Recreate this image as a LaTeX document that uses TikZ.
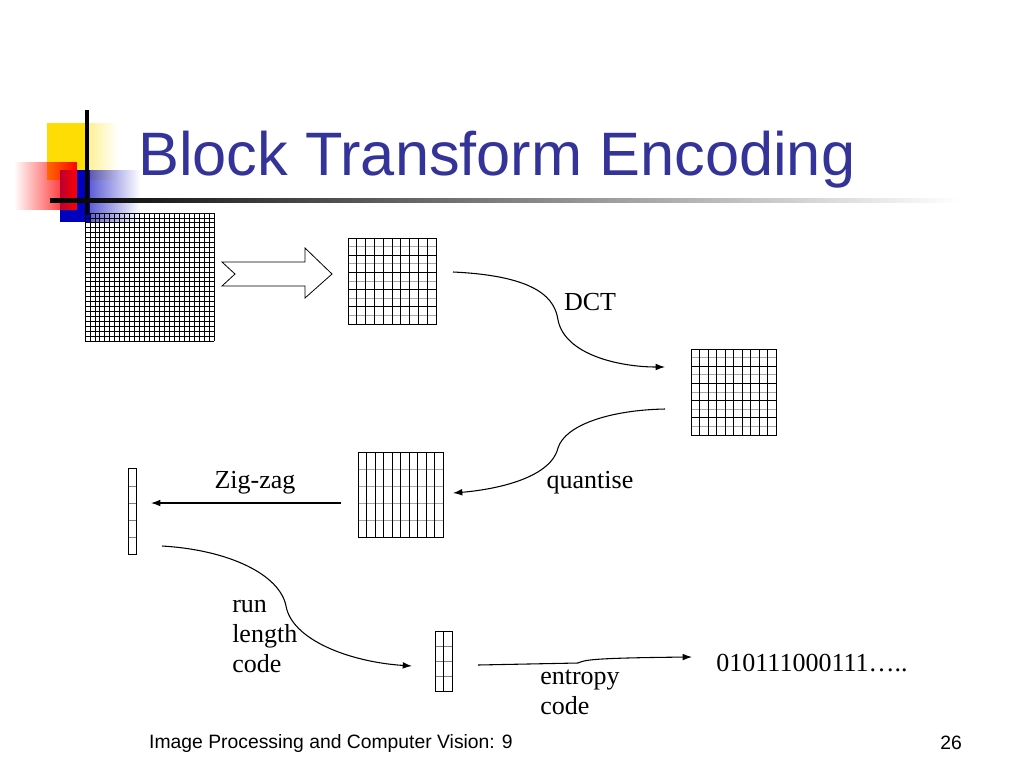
\documentclass[tikz,border=0pt]{standalone}
\usepackage{fontspec}
\setmainfont{Liberation Serif}
\newfontfamily\sansf{Liberation Sans}
\usetikzlibrary{fadings,arrows.meta}
\definecolor{ttl}{HTML}{333399}
\begin{document}
\begin{tikzpicture}[x=0.75pt,y=-0.75pt,
  grd/.style={line width=0.6pt},
  conn/.style={line width=0.8pt,-{Latex[length=7pt,width=5pt]}},
  lbl/.style={font=\fontsize{19.5}{23}\selectfont,inner sep=0pt}]
\useasboundingbox (0,0) rectangle (1024,768);
% decoration
\fill[yellow!80!orange,path fading=east] (47,123) rectangle (118,180);
\fill[yellow!80!orange] (47,123) rectangle (87,180);
\fill[blue!75!black,path fading=east] (60,170) rectangle (140,222);
\fill[blue!75!black] (60,170) rectangle (90,222);
\fill[red,path fading=west] (14,162) rectangle (77,210);
\draw[line width=2.5pt] (87,110) -- (87,215);
\shade[left color=black,right color=white] (50,198.5) rectangle (960,202);
\node[font=\sansf\fontsize{46}{50}\selectfont,text=ttl,anchor=west,inner sep=0pt] (title) at (138,160) {Block Transform Encoding};
% big grid 26x26
\draw[grd] \foreach \i in {0,...,26} {(85+\i*4.96,213)--(85+\i*4.96,341) (85,213+\i*4.92)--(214,213+\i*4.92)};
% grid 2
\draw[grd,gray!70] \foreach \i in {1,3,...,9} {(348,238+\i*8.6)--(436,238+\i*8.6)};
\draw[grd] \foreach \i in {0,2,...,10} {(348,238+\i*8.6)--(436,238+\i*8.6)};
\draw[grd] \foreach \i in {0,...,10} {(348+\i*8.8,238)--(348+\i*8.8,324)};
\node[draw,grd,minimum width=66pt,minimum height=64.5pt,inner sep=0] (g2) at (392,281) {};
% grid 3
\draw[grd,gray!70] \foreach \i in {1,3,...,9} {(691,349+\i*8.6)--(776,349+\i*8.6)};
\draw[grd] \foreach \i in {0,2,...,10} {(691,349+\i*8.6)--(776,349+\i*8.6)};
\draw[grd] \foreach \i in {0,...,10} {(691+\i*8.5,349)--(691+\i*8.5,435)};
\node[draw,grd,minimum width=63.75pt,minimum height=64.5pt,inner sep=0] (g3) at (733.5,392) {};
% grid 4
\draw[grd,gray!70] \foreach \i in {1,...,4} {(358,452+\i*17)--(443,452+\i*17)};
\draw[grd] \foreach \i in {0,...,10} {(358+\i*8.5,452)--(358+\i*8.5,537)};
\node[draw,grd,minimum width=63.75pt,minimum height=63.75pt,inner sep=0] (g4) at (400.5,494.5) {};
% vectors
\draw[grd,gray] \foreach \y in {486,503,520,537} {(128,\y)--(136,\y)};
\node[draw,grd,minimum width=6pt,minimum height=64pt,inner sep=0] (v1) at (132,511.5) {};
\draw[grd,gray] \foreach \y in {646,661,676} {(435,\y)--(452,\y)};
\draw[grd] (443.5,631)--(443.5,691);
\node[draw,grd,minimum width=12.75pt,minimum height=45pt,inner sep=0] (v2) at (443.5,661) {};
% block arrow
\draw[line width=0.6pt] (222,262)--(305,262)--(305,248)--(332,274)--(305,298)--(305,286)--(222,286)--(235,274)--cycle;
% connectors
\coordinate (a1) at (453,272); \coordinate (a2) at (665,367);
\draw[conn] (a1) .. controls (540,276) and (555,300) .. (558,320) .. controls (565,355) and (620,367) .. (a2);
\coordinate (b1) at (665,409); \coordinate (b2) at (453,493);
\draw[conn] (b1) .. controls (610,410) and (565,425) .. (558,448) .. controls (550,480) and (490,490) .. (b2);
\coordinate (c1) at (341,503); \coordinate (c2) at (151,503);
\draw[conn] (c1) -- (c2);
\coordinate (d1) at (162,546); \coordinate (d2) at (412,666);
\draw[conn] (d1) .. controls (230,550) and (280,575) .. (286,606) .. controls (292,640) and (350,662) .. (d2);
\coordinate (e1) at (478,665); \coordinate (e2) at (692,657);
\draw[conn] (e1) -- (578,663) .. controls (585,660) and (590,658) .. (e2);
% labels
\node[lbl] (dct) at (590,302) {DCT};
\node[lbl] (qt) at (590,483) {quantise};
\node[lbl] (zz) at (255,483) {Zig-zag};
\node[lbl,anchor=north west,align=left,font=\fontsize{19.5}{22.5}\selectfont] (rl) at (232,600) {run\\length\\code};
\node[lbl,anchor=north west,align=left,font=\fontsize{19.5}{22.5}\selectfont] (ec) at (540,670) {entropy\\code};
\node[lbl] (bits) at (812,663) {010111000111…..};
\node[font=\sansf\fontsize{14.5}{16}\selectfont,inner sep=0] (ft) at (331,743) {Image Processing and Computer Vision: 9};
\node[font=\sansf\fontsize{14.5}{16}\selectfont,inner sep=0] (pg) at (951,743) {26};
\end{tikzpicture}
\end{document}
